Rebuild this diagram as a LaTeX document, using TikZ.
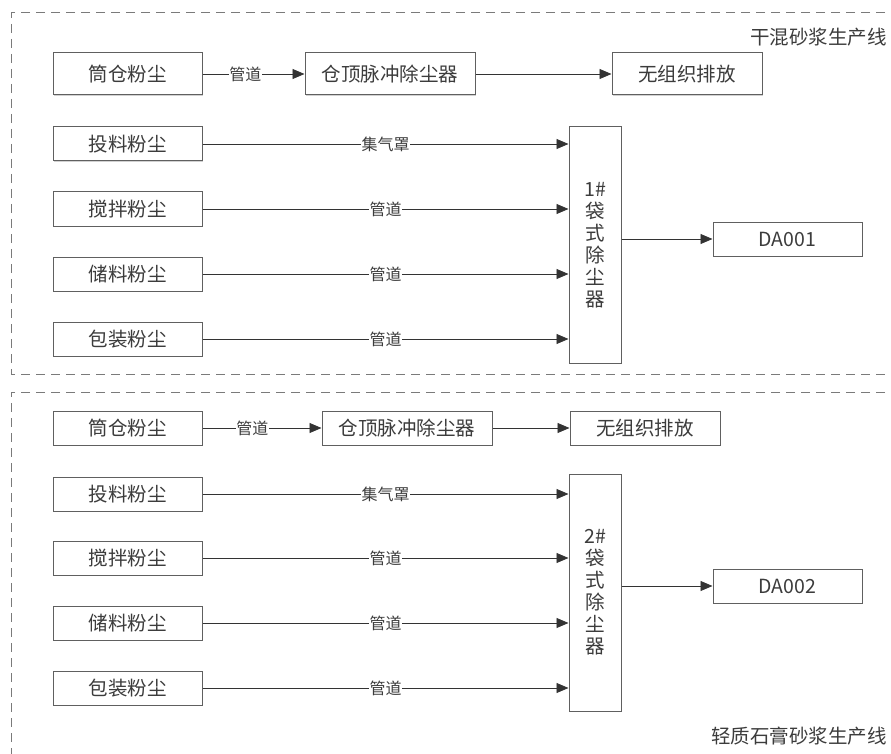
\documentclass[tikz,border=0pt]{standalone}
\usepackage{fontspec}
\setmainfont{Noto Sans CJK SC}
\usetikzlibrary{arrows.meta,shadows}
\definecolor{ln}{HTML}{333333}
\definecolor{tx}{HTML}{3C3C3C}
\definecolor{bd}{HTML}{606060}
\definecolor{dsh}{HTML}{7A7A7A}
\begin{document}
\begin{tikzpicture}[x=1pt,y=-1pt,
  box/.style={draw=bd, line width=1pt, fill=white, inner sep=0pt, text=tx,
    font=\fontsize{19.5}{22}\selectfont,
    drop shadow={shadow xshift=1pt, shadow yshift=-1.2pt, fill=black!30, opacity=0.6}},
  bigbox/.style={box, minimum width=149pt, minimum height=42pt},
  rowbox/.style={box, minimum width=149pt, minimum height=34pt},
  conn/.style={draw=ln, line width=0.9pt, -{Triangle[length=12pt,width=10pt]}},
  lbl/.style={fill=white, inner sep=0.5pt, text=tx, font=\fontsize{16}{18}\selectfont},
  frame/.style={draw=dsh, line width=1pt, dash pattern=on 9pt off 6pt},
  title/.style={text=tx, font=\fontsize{19.5}{22}\selectfont, anchor=east, inner sep=0pt}]
\useasboundingbox (0,0) rectangle (891,754);

% frames
\draw[frame] (900,13) -- (11,13) -- (11,374) -- (900,374);
\draw[frame] (900,392) -- (11,392) -- (11,760);
\node[title] (t1) at (887,37) {干混砂浆生产线};
\node[title] (t2) at (887,736) {轻质石膏砂浆生产线};

% ---------- section 1 ----------
\node[bigbox] (a1) at (127.5,74) {筒仓粉尘};
\node[bigbox, minimum width=170pt] (b1) at (390,74) {仓顶脉冲除尘器};
\node[bigbox, minimum width=150pt] (c1) at (687,74) {无组织排放};
\node[rowbox] (p1) at (127.5,144) {投料粉尘};
\node[rowbox] (q1) at (127.5,209) {搅拌粉尘};
\node[rowbox] (r1) at (127.5,274) {储料粉尘};
\node[rowbox] (s1) at (127.5,339) {包装粉尘};
\node[box, minimum width=52pt, minimum height=236pt, align=center] (f1) at (595,245) {1\#\\袋\\式\\除\\尘\\器};
\node[rowbox] (d1) at (787.5,239) {DA001};

\draw[conn] (a1) -- node[lbl, pos=0.42] {管道} (b1);
\draw[conn] (b1) -- (c1);
\draw[conn] (p1.east) -- node[lbl] {集气罩} (p1.east -| f1.west);
\draw[conn] (q1.east) -- node[lbl] {管道} (q1.east -| f1.west);
\draw[conn] (r1.east) -- node[lbl] {管道} (r1.east -| f1.west);
\draw[conn] (s1.east) -- node[lbl] {管道} (s1.east -| f1.west);
\draw[conn] (f1.east |- d1.west) -- (d1.west);

% ---------- section 2 ----------
\node[bigbox, minimum height=34pt] (a2) at (127.5,428) {筒仓粉尘};
\node[bigbox, minimum width=170pt, minimum height=34pt] (b2) at (407,428) {仓顶脉冲除尘器};
\node[bigbox, minimum width=150pt, minimum height=34pt] (c2) at (645,428) {无组织排放};
\node[rowbox] (p2) at (127.5,494) {投料粉尘};
\node[rowbox] (q2) at (127.5,558) {搅拌粉尘};
\node[rowbox] (r2) at (127.5,623) {储料粉尘};
\node[rowbox] (s2) at (127.5,688) {包装粉尘};
\node[box, minimum width=52pt, minimum height=237pt, align=center] (f2) at (595,592.5) {2\#\\袋\\式\\除\\尘\\器};
\node[rowbox] (d2) at (787.5,586) {DA002};

\draw[conn] (a2) -- node[lbl, pos=0.42] {管道} (b2);
\draw[conn] (b2) -- (c2);
\draw[conn] (p2.east) -- node[lbl] {集气罩} (p2.east -| f2.west);
\draw[conn] (q2.east) -- node[lbl] {管道} (q2.east -| f2.west);
\draw[conn] (r2.east) -- node[lbl] {管道} (r2.east -| f2.west);
\draw[conn] (s2.east) -- node[lbl] {管道} (s2.east -| f2.west);
\draw[conn] (f2.east |- d2.west) -- (d2.west);
\end{tikzpicture}
\end{document}
